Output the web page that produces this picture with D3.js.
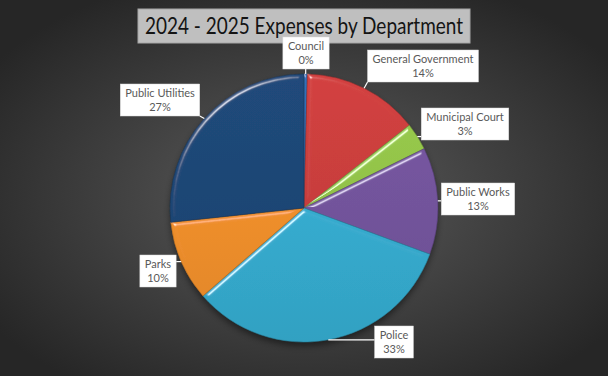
<!DOCTYPE html>
<html>
<head>
<meta charset="utf-8">
<script src="https://cdn.jsdelivr.net/npm/d3@7"></script>
<style>
  body { margin: 0; background: #333; }
  svg { display: block; }
  text { font-family: Lato, "Open Sans", sans-serif; }
</style>
</head>
<body>
<svg width="608" height="376"></svg>
<script>
// Data (percent of total)
const departments = ["Council", "General Government", "Municipal Court", "Public Works", "Police", "Parks", "Public Utilities"];
const shares = [0.4, 14.0, 3.3, 12.9, 33.0, 9.7, 26.7];
const sliceColors = ["#2e6db4", "#cc3f3e", "#95c64a", "#75559f", "#37b0d4", "#f5922c", "#1f4777"];

const svg = d3.select("svg");
const width = 608, height = 376;
const cx = 304, cy = 208, radius = 134;

const defs = svg.append("defs");

// background radial gradient
const bg = defs.append("radialGradient").attr("id", "bg")
    .attr("cx", "50%").attr("cy", "52%").attr("r", "62%");
bg.append("stop").attr("offset", "0%").attr("stop-color", "#5c5c5c");
bg.append("stop").attr("offset", "100%").attr("stop-color", "#262626");

svg.append("rect").attr("width", width).attr("height", height).attr("fill", "url(#bg)");

// soft bevel filter (edge highlights only)
const bevel = defs.append("filter").attr("id", "bevel")
    .attr("x", "-10%").attr("y", "-10%").attr("width", "120%").attr("height", "120%");
bevel.append("feGaussianBlur").attr("in", "SourceAlpha").attr("stdDeviation", 2).attr("result", "blur");
const spec = bevel.append("feSpecularLighting").attr("in", "blur")
    .attr("surfaceScale", 4).attr("specularConstant", 0.8).attr("specularExponent", 40)
    .attr("lighting-color", "#ffffff").attr("result", "spec");
spec.append("feDistantLight").attr("azimuth", 235).attr("elevation", 28);
bevel.append("feComposite").attr("in", "spec").attr("in2", "SourceAlpha").attr("operator", "in").attr("result", "specIn");
bevel.append("feComposite").attr("in", "SourceGraphic").attr("in2", "specIn")
    .attr("operator", "arithmetic").attr("k1", 0).attr("k2", 1).attr("k3", 0.8).attr("k4", 0);

// drop shadow under the pie
const shadow = defs.append("filter").attr("id", "shadow")
    .attr("x", "-20%").attr("y", "-20%").attr("width", "140%").attr("height", "140%");
shadow.append("feGaussianBlur").attr("stdDeviation", 3);

// per-slice vertical shading
sliceColors.forEach((c, i) => {
    const g = defs.append("linearGradient").attr("id", "sg" + i)
        .attr("gradientUnits", "userSpaceOnUse")
        .attr("x1", 0).attr("y1", -radius).attr("x2", 0).attr("y2", radius);
    g.append("stop").attr("offset", "0%").attr("stop-color", d3.color(c).brighter(0.1));
    g.append("stop").attr("offset", "100%").attr("stop-color", d3.color(c).darker(0.25));
});

const pie = d3.pie().sort(null).value(d => d);
const arcs = pie(shares);
const arc = d3.arc().innerRadius(0).outerRadius(radius);

const chart = svg.append("g").attr("transform", `translate(${cx},${cy})`);

chart.append("circle")
    .attr("cx", 0).attr("cy", 4).attr("r", radius)
    .attr("fill", "#000").attr("opacity", 0.45)
    .attr("filter", "url(#shadow)");

chart.selectAll("path.slice")
    .data(arcs)
    .join("path")
    .attr("class", "slice")
    .attr("d", arc)
    .attr("fill", (d, i) => `url(#sg${i})`)
    .attr("stroke", (d, i) => d3.color(sliceColors[i]).darker(0.8))
    .attr("stroke-width", 0.6)
    .attr("filter", "url(#bevel)");

// title
const titleG = svg.append("g");
titleG.append("rect")
    .attr("x", 138).attr("y", 9).attr("width", 332).attr("height", 34)
    .attr("fill", "#bfbfbf").attr("stroke", "#a6a6a6").attr("stroke-width", 1);
titleG.append("text")
    .attr("x", 304).attr("y", 34)
    .attr("text-anchor", "middle")
    .attr("font-size", 23)
    .attr("fill", "#141414")
    .attr("textLength", 318)
    .attr("lengthAdjust", "spacingAndGlyphs")
    .text("2024 - 2025 Expenses by Department");

// label boxes: centre of box (x, y) in page coordinates
const labelPos = {
    "Council": [306, 53],
    "General Government": [423, 66],
    "Municipal Court": [465, 124],
    "Public Works": [478, 199],
    "Police": [394, 342],
    "Parks": [158, 271],
    "Public Utilities": [160, 100]
};

const fmt = v => Math.round(v) + "%";
const labels = svg.append("g");

arcs.forEach((d, i) => {
    const name = departments[i];
    const [lx, ly] = labelPos[name];
    const mid = (d.startAngle + d.endAngle) / 2;
    const ex = cx + radius * Math.sin(mid);
    const ey = cy - radius * Math.cos(mid);

    const g = labels.append("g");
    const t1 = g.append("text").attr("x", lx).attr("y", ly - 3)
        .attr("text-anchor", "middle").attr("font-size", 11).attr("fill", "#595959").text(name);
    g.append("text").attr("x", lx).attr("y", ly + 11)
        .attr("text-anchor", "middle").attr("font-size", 11).attr("fill", "#595959").text(fmt(shares[i]));
    const w = t1.node().getComputedTextLength() + 10;
    const bw = Math.max(w, 36), bh = 32;
    const bx = lx - bw / 2, by = ly - bh / 2;

    // leader: from nearest box edge point to slice edge
    const ax = Math.max(bx, Math.min(bx + bw, ex));
    const ay = Math.max(by, Math.min(by + bh, ey));
    g.insert("line", "text")
        .attr("x1", ax).attr("y1", ay).attr("x2", ex).attr("y2", ey)
        .attr("stroke", "#ffffff").attr("stroke-width", 1.2);
    g.insert("rect", "text")
        .attr("x", bx).attr("y", by).attr("width", bw).attr("height", bh)
        .attr("fill", "#ffffff").attr("stroke", "#d9d9d9").attr("stroke-width", 0.5);
});
</script>
</body>
</html>
